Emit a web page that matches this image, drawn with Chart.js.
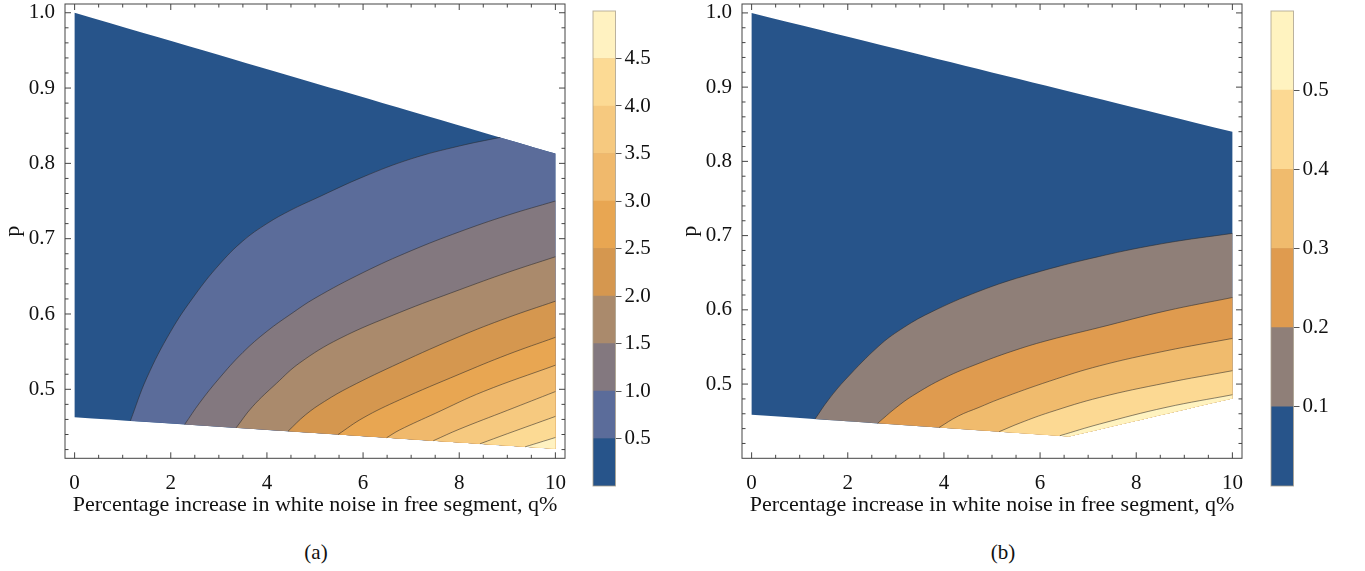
<!DOCTYPE html>
<html>
<head>
<meta charset="utf-8">
<script src="https://cdn.jsdelivr.net/npm/chart.js@4.4.1/dist/chart.umd.min.js"></script>
<style>
  html, body { margin: 0; padding: 0; background: #fff; }
  body { width: 1365px; height: 571px; position: relative; overflow: hidden;
         font-family: "Liberation Serif", "Times New Roman", serif; }
  .box { position: absolute; }
  .cap { position: absolute; top: 540px; width: 60px; text-align: center;
         font-size: 21px; line-height: 24px; color: #111; }
</style>
</head>
<body>
<div class="box" style="left:0px;top:0px;width:580px;height:530px"><canvas id="main-a"></canvas></div>
<div class="box" style="left:585px;top:0px;width:90px;height:500px"><canvas id="bar-a"></canvas></div>
<div class="box" style="left:677px;top:0px;width:580px;height:530px"><canvas id="main-b"></canvas></div>
<div class="box" style="left:1263px;top:0px;width:90px;height:500px"><canvas id="bar-b"></canvas></div>
<div class="cap" style="left:286px">(a)</div>
<div class="cap" style="left:973px">(b)</div>

<script>
// ---- axis ticks ----
const qTicks = [0, 2, 4, 6, 8, 10];
const pTicks = [0.5, 0.6, 0.7, 0.8, 0.9, 1.0];

// ---- panel (a) ----
const levelsA = [0, 0.5, 1.0, 1.5, 2.0, 2.5, 3.0, 3.5, 4.0, 4.5, 5.0];
const colorsA = ["#27548a", "#5b6c9a", "#83787f", "#aa8a6c", "#d5974f",
                 "#e8a652", "#f0b96c", "#f6c97f", "#fcda94", "#fff2c1"];
const barTicksA = [0.5, 1.0, 1.5, 2.0, 2.5, 3.0, 3.5, 4.0, 4.5];

// region where the function is defined: top-left, top-right, bottom-right, bottom-left
const domainA = [[0, 1.0], [10, 0.813], [10, 0.421], [0, 0.463]];

// contour lines [q, p]
const a05 = [[1.16, 0.4581], [1.5, 0.515], [2.0, 0.577], [2.5, 0.625], [3.0, 0.665], [3.5, 0.697],
             [4.0, 0.72], [4.5, 0.738], [5.0, 0.753], [6.0, 0.782], [7.0, 0.806], [8.0, 0.823],
             [8.85, 0.8345]];
const a10 = [[2.29, 0.4534], [2.6, 0.482], [3.0, 0.514], [3.5, 0.549], [4.0, 0.577], [4.5, 0.6],
             [5.0, 0.621], [6.0, 0.655], [7.0, 0.684], [8.0, 0.709], [9.0, 0.731], [10, 0.75]];
const a15 = [[3.36, 0.4489], [3.7, 0.477], [4.2, 0.508], [4.68, 0.535], [5.5, 0.567], [6.76, 0.602],
             [8.0, 0.632], [9.0, 0.655], [10, 0.676]];
const a20 = [[4.44, 0.4444], [4.8, 0.466], [5.2, 0.484], [5.72, 0.503], [6.76, 0.535], [8.0, 0.57],
             [9.0, 0.595], [10, 0.617]];
const a25 = [[5.48, 0.44], [6.0, 0.462], [6.76, 0.486], [8.0, 0.52], [9.0, 0.546], [10, 0.569]];
const a30 = [[6.49, 0.4357], [6.76, 0.446], [7.5, 0.468], [8.5, 0.497], [10, 0.532]];
const a35 = [[7.46, 0.4317], [8.0, 0.447], [9.0, 0.472], [10, 0.497]];
const a40 = [[8.43, 0.4276], [9.0, 0.441], [10, 0.464]];
const a45 = [[9.37, 0.4236], [10, 0.436]];

// ---- panel (b) ----
const levelsB = [0, 0.1, 0.2, 0.3, 0.4, 0.5, 0.6];
const colorsB = ["#27548a", "#8f7f78", "#df9b4f", "#f0bb6d", "#fcd993", "#fff3c0"];
const barTicksB = [0.1, 0.2, 0.3, 0.4, 0.5];

const domainB = [[0, 1.0], [10, 0.84], [10, 0.4807], [6.6, 0.4295], [0, 0.4587]];

const b01 = [[1.32, 0.4529], [1.6, 0.479], [1.96, 0.5067], [2.65, 0.5515], [3.1, 0.5735],
             [3.69, 0.5955], [4.73, 0.625], [5.8, 0.648], [7.24, 0.672], [8.62, 0.69], [10, 0.703]];
const b02 = [[2.62, 0.4471], [3.0, 0.468], [3.35, 0.4843], [4.0, 0.508], [4.73, 0.528],
             [5.5, 0.546], [6.2, 0.5595], [7.24, 0.5763], [8.62, 0.5986], [10, 0.6166]];
const b03 = [[3.9, 0.4415], [4.3, 0.457], [4.73, 0.4686], [5.15, 0.4798], [6.2, 0.504],
             [7.24, 0.5246], [8.62, 0.5448], [10, 0.5615]];
const b04 = [[5.15, 0.4359], [5.6, 0.448], [6.2, 0.462], [7.24, 0.482], [8.62, 0.5015], [10, 0.518]];
const b05 = [[6.41, 0.4304], [7.24, 0.4462], [8.62, 0.4686], [10, 0.4856]];

Chart.defaults.font.family = '"Liberation Serif", "Times New Roman", serif';
Chart.defaults.font.size = 21;
Chart.defaults.color = "#111";

const toXY = pts => pts.map(([x, y]) => ({ x, y }));

// corners are doubled so the smoothing keeps the straight edges straight
const doubled = pts => pts.flatMap(c => [c, c]);

// polygon under one contour: the curve, then the remaining domain corners
function bandShape(curve, corners) {
  return [curve[0], ...curve, curve[curve.length - 1], ...doubled(corners)];
}

const frameTicks = {
  id: "frameTicks",
  afterDraw(chart) {
    const { ctx, chartArea: a, scales: { x, y } } = chart;
    ctx.save();
    ctx.strokeStyle = "#444";
    ctx.lineWidth = 1;
    ctx.strokeRect(a.left, a.top, a.right - a.left, a.bottom - a.top);
    ctx.beginPath();
    for (let i = 0; i <= 20; i++) {
      const px = x.getPixelForValue(i / 2);
      const len = i % 4 === 0 ? 6 : 3.5;
      ctx.moveTo(px, a.bottom); ctx.lineTo(px, a.bottom - len);
      ctx.moveTo(px, a.top); ctx.lineTo(px, a.top + len);
    }
    for (let i = 21; i <= 50; i++) {
      const py = y.getPixelForValue(i / 50);
      const len = i % 5 === 0 ? 6 : 3.5;
      ctx.moveTo(a.left, py); ctx.lineTo(a.left + len, py);
      ctx.moveTo(a.right, py); ctx.lineTo(a.right - len, py);
    }
    ctx.stroke();
    ctx.restore();
  }
};

const barOutline = {
  id: "barOutline",
  afterDraw(chart) {
    const { ctx, chartArea: a } = chart;
    ctx.save();
    ctx.strokeStyle = "rgba(170,160,140,0.8)";
    ctx.lineWidth = 1;
    ctx.strokeRect(a.left, a.top, a.right - a.left, a.bottom - a.top);
    ctx.restore();
  }
};

function contourChart(canvas_id, domain, curves, cornerSets, colors, y_min, y_max) {
  const datasets = [];
  datasets.push({
    data: toXY(doubled(domain)),
    backgroundColor: colors[0],
    order: 100
  });
  curves.forEach((curve, i) => {
    datasets.push({
      data: toXY(bandShape(curve, cornerSets[i])),
      backgroundColor: colors[i + 1],
      order: 99 - i
    });
  });
  datasets.forEach(d => Object.assign(d, {
    fill: "shape", borderColor: "transparent", borderWidth: 0, pointRadius: 0, tension: 0.4
  }));
  curves.forEach(curve => {
    datasets.push({
      data: toXY(curve),
      fill: false,
      borderColor: "rgba(40,40,40,0.6)",
      borderWidth: 0.9,
      pointRadius: 0,
      tension: 0.4,
      order: 0
    });
  });

  new Chart(document.getElementById(canvas_id), {
    type: "line",
    data: { datasets },
    options: {
      responsive: true,
      maintainAspectRatio: false,
      animation: false,
      events: [],
      layout: { padding: { top: 4, right: 15, left: 0, bottom: 0 } },
      plugins: { legend: { display: false }, tooltip: { enabled: false } },
      scales: {
        x: {
          type: "linear",
          min: -0.2,
          max: 10.2,
          afterBuildTicks: s => { s.ticks = qTicks.map(v => ({ value: v })); },
          afterFit: s => { s.height = 71.7; s.paddingLeft = 0; s.paddingRight = 0; },
          ticks: { padding: 5, callback: v => String(v) },
          grid: { display: false },
          border: { display: false },
          title: {
            display: true,
            text: "Percentage increase in white noise in free segment, q%",
            font: { size: 22 },
            padding: { top: 0, bottom: 12 }
          }
        },
        y: {
          type: "linear",
          min: y_min,
          max: y_max,
          afterBuildTicks: s => { s.ticks = pTicks.map(v => ({ value: v })); },
          afterFit: s => { s.width = 65; s.paddingTop = 0; s.paddingBottom = 0; },
          ticks: { padding: 2, callback: v => v.toFixed(1) },
          grid: { display: false },
          border: { display: false },
          title: { display: true, text: "p", font: { size: 22 }, padding: { top: 0, bottom: 0 } }
        }
      }
    },
    plugins: [frameTicks]
  });
}

function colourBar(canvas_id, levels, colors, bar_ticks) {
  new Chart(document.getElementById(canvas_id), {
    type: "bar",
    data: {
      labels: [""],
      datasets: colors.map((c, i) => ({
        data: [[levels[i], levels[i + 1]]],
        backgroundColor: c,
        borderWidth: 0,
        grouped: false,
        barPercentage: 1,
        categoryPercentage: 1
      }))
    },
    options: {
      responsive: true,
      maintainAspectRatio: false,
      animation: false,
      events: [],
      layout: { padding: { top: 11, bottom: 14, left: 8, right: 0 } },
      plugins: { legend: { display: false }, tooltip: { enabled: false } },
      scales: {
        x: { display: false },
        y: {
          position: "right",
          min: levels[0],
          max: levels[levels.length - 1],
          afterBuildTicks: s => { s.ticks = bar_ticks.map(v => ({ value: v })); },
          afterFit: s => { s.width = 59.5; s.paddingTop = 0; s.paddingBottom = 0; },
          ticks: { padding: 3, callback: v => v.toFixed(1) },
          grid: {
            drawOnChartArea: true,
            color: "rgba(80,60,40,0.55)",
            tickColor: "#555",
            tickLength: 6,
            lineWidth: 1
          },
          border: { display: false }
        }
      }
    },
    plugins: [barOutline]
  });
}

// panel (a)
contourChart("main-a", domainA,
  [a05, a10, a15, a20, a25, a30, a35, a40, a45],
  [[domainA[1], domainA[2]], [domainA[2]], [domainA[2]], [domainA[2]], [domainA[2]],
   [domainA[2]], [domainA[2]], [domainA[2]], [domainA[2]]],
  colorsA, 0.4084, 1.0116);
colourBar("bar-a", levelsA, colorsA, barTicksA);

// panel (b)
contourChart("main-b", domainB,
  [b01, b02, b03, b04, b05],
  [[domainB[2], domainB[3]], [domainB[2], domainB[3]], [domainB[2], domainB[3]],
   [domainB[2], domainB[3]], [domainB[2], domainB[3]]],
  colorsB, 0.4, 1.012);
colourBar("bar-b", levelsB, colorsB, barTicksB);
</script>
</body>
</html>
